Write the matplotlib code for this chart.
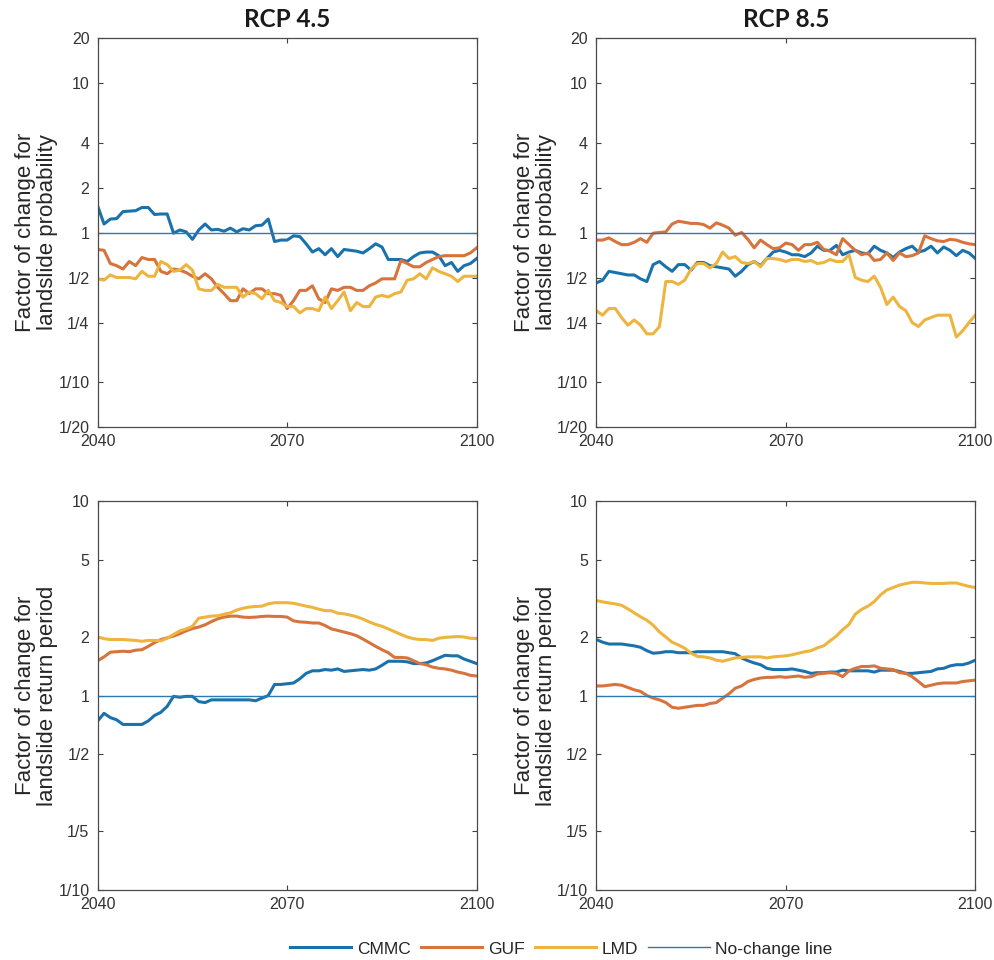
import matplotlib
matplotlib.use("Agg")
import matplotlib.pyplot as plt
import matplotlib.ticker as ticker

plt.rcParams["font.family"] = ["Liberation Sans", "DejaVu Sans"]

YEARS = list(range(2040, 2101))
SCENARIOS = ["RCP 4.5", "RCP 8.5"]
MODELS = ["CMMC", "GUF", "LMD"]
MODEL_COLORS = {"CMMC": "#1a72ad", "GUF": "#d7733d", "LMD": "#edb43e"}
NO_CHANGE_COLOR = "#2a7ab5"

PROB_TICKS = [1 / 20, 1 / 10, 1 / 4, 1 / 2, 1, 2, 4, 10, 20]
PROB_LABELS = ["1/20", "1/10", "1/4", "1/2", "1", "2", "4", "10", "20"]
RET_TICKS = [1 / 10, 1 / 5, 1 / 2, 1, 2, 5, 10]
RET_LABELS = ["1/10", "1/5", "1/2", "1", "2", "5", "10"]
X_TICKS = [2040, 2070, 2100]

# factor of change for landslide probability, 2040..2100
PROB_45_CMMC = [1.50, 1.14, 1.23, 1.24, 1.38, 1.39, 1.40, 1.47, 1.47, 1.32,
                1.33, 1.33, 0.99, 1.04, 1.01, 0.90, 1.04, 1.14, 1.04, 1.05,
                1.02, 1.07, 1.01, 1.06, 1.04, 1.11, 1.12, 1.23, 0.87, 0.89,
                0.89, 0.95, 0.94, 0.84, 0.74, 0.78, 0.71, 0.78, 0.69, 0.77,
                0.76, 0.75, 0.73, 0.78, 0.84, 0.80, 0.66, 0.66, 0.66, 0.64,
                0.69, 0.73, 0.74, 0.74, 0.70, 0.60, 0.63, 0.55, 0.60, 0.62,
                0.67]
PROB_45_GUF = [0.77, 0.76, 0.62, 0.60, 0.57, 0.64, 0.60, 0.68, 0.66, 0.66,
               0.55, 0.53, 0.57, 0.56, 0.54, 0.51, 0.49, 0.53, 0.49, 0.43,
               0.39, 0.35, 0.35, 0.42, 0.39, 0.42, 0.42, 0.39, 0.39, 0.38,
               0.31, 0.35, 0.41, 0.41, 0.44, 0.36, 0.34, 0.42, 0.41, 0.43,
               0.43, 0.41, 0.41, 0.44, 0.46, 0.49, 0.49, 0.49, 0.65, 0.62,
               0.59, 0.59, 0.63, 0.66, 0.69, 0.70, 0.70, 0.70, 0.70, 0.73,
               0.79]
PROB_45_LMD = [0.49, 0.48, 0.52, 0.50, 0.50, 0.50, 0.49, 0.55, 0.51, 0.51,
               0.64, 0.61, 0.55, 0.56, 0.61, 0.56, 0.42, 0.41, 0.41, 0.45,
               0.43, 0.43, 0.43, 0.37, 0.40, 0.39, 0.36, 0.41, 0.35, 0.34,
               0.32, 0.32, 0.29, 0.31, 0.31, 0.30, 0.37, 0.31, 0.35, 0.40,
               0.30, 0.34, 0.32, 0.32, 0.37, 0.38, 0.37, 0.39, 0.40, 0.48,
               0.49, 0.53, 0.49, 0.58, 0.55, 0.53, 0.51, 0.47, 0.51, 0.51,
               0.51]
PROB_85_CMMC = [0.46, 0.48, 0.55, 0.54, 0.53, 0.52, 0.52, 0.49, 0.47, 0.61,
                0.64, 0.59, 0.55, 0.61, 0.61, 0.56, 0.63, 0.63, 0.60, 0.59,
                0.58, 0.57, 0.51, 0.55, 0.61, 0.64, 0.60, 0.67, 0.74, 0.76,
                0.74, 0.71, 0.71, 0.69, 0.73, 0.81, 0.76, 0.76, 0.82, 0.71,
                0.74, 0.76, 0.73, 0.72, 0.81, 0.76, 0.73, 0.68, 0.74, 0.78,
                0.81, 0.74, 0.76, 0.81, 0.73, 0.80, 0.76, 0.70, 0.76, 0.73,
                0.67]
PROB_85_GUF = [0.89, 0.89, 0.92, 0.87, 0.83, 0.83, 0.86, 0.91, 0.86, 0.99,
               1.00, 1.01, 1.14, 1.19, 1.17, 1.15, 1.15, 1.13, 1.07, 1.16,
               1.12, 1.07, 0.96, 1.00, 0.90, 0.79, 0.89, 0.83, 0.78, 0.79,
               0.85, 0.83, 0.76, 0.83, 0.83, 0.86, 0.77, 0.75, 0.71, 0.91,
               0.83, 0.76, 0.71, 0.73, 0.65, 0.66, 0.73, 0.65, 0.73, 0.69,
               0.70, 0.73, 0.95, 0.91, 0.88, 0.87, 0.90, 0.89, 0.86, 0.84,
               0.83]
PROB_85_LMD = [0.30, 0.28, 0.31, 0.31, 0.27, 0.24, 0.26, 0.24, 0.21, 0.21,
               0.235, 0.47, 0.47, 0.45, 0.48, 0.57, 0.62, 0.62, 0.58, 0.62,
               0.74, 0.67, 0.69, 0.63, 0.62, 0.64, 0.59, 0.67, 0.67, 0.66,
               0.64, 0.66, 0.66, 0.64, 0.65, 0.62, 0.63, 0.66, 0.64, 0.64,
               0.71, 0.50, 0.48, 0.47, 0.51, 0.43, 0.33, 0.37, 0.32, 0.30,
               0.25, 0.235, 0.26, 0.27, 0.28, 0.28, 0.28, 0.20, 0.22, 0.25,
               0.28]

# factor of change for landslide return period, 2040..2100
RET_45_CMMC = [0.74, 0.81, 0.77, 0.75, 0.71, 0.71, 0.71, 0.71, 0.74, 0.79,
               0.82, 0.88, 0.99, 0.98, 0.99, 0.99, 0.93, 0.92, 0.95, 0.95,
               0.95, 0.95, 0.95, 0.95, 0.95, 0.94, 0.97, 1.00, 1.14, 1.14,
               1.15, 1.16, 1.22, 1.30, 1.34, 1.34, 1.36, 1.35, 1.37, 1.33,
               1.34, 1.35, 1.36, 1.35, 1.37, 1.43, 1.50, 1.50, 1.50, 1.49,
               1.46, 1.46, 1.47, 1.51, 1.56, 1.61, 1.60, 1.60, 1.54, 1.50,
               1.46]
RET_45_GUF = [1.51, 1.58, 1.67, 1.68, 1.69, 1.68, 1.71, 1.72, 1.79, 1.87,
              1.94, 1.98, 2.02, 2.08, 2.15, 2.21, 2.25, 2.31, 2.40, 2.48,
              2.53, 2.56, 2.56, 2.53, 2.52, 2.53, 2.55, 2.56, 2.55, 2.55,
              2.53, 2.42, 2.39, 2.38, 2.36, 2.36, 2.29, 2.20, 2.16, 2.12,
              2.08, 2.03, 1.95, 1.87, 1.79, 1.72, 1.66, 1.57, 1.57, 1.56,
              1.51, 1.46, 1.44, 1.40, 1.38, 1.37, 1.35, 1.32, 1.30, 1.27,
              1.26]
RET_45_LMD = [2.00, 1.96, 1.94, 1.94, 1.94, 1.93, 1.92, 1.90, 1.92, 1.92,
              1.91, 1.97, 2.06, 2.15, 2.20, 2.27, 2.50, 2.53, 2.56, 2.57,
              2.62, 2.66, 2.75, 2.81, 2.85, 2.87, 2.88, 2.96, 3.00, 3.00,
              3.00, 2.98, 2.93, 2.88, 2.84, 2.78, 2.73, 2.73, 2.65, 2.63,
              2.59, 2.54, 2.47, 2.39, 2.32, 2.27, 2.20, 2.13, 2.06, 2.00,
              1.96, 1.94, 1.94, 1.92, 1.97, 1.99, 2.00, 2.01, 2.00, 1.97,
              1.96]
RET_85_CMMC = [1.94, 1.88, 1.84, 1.84, 1.84, 1.82, 1.80, 1.77, 1.70, 1.65,
               1.66, 1.68, 1.68, 1.66, 1.66, 1.66, 1.68, 1.68, 1.68, 1.68,
               1.68, 1.66, 1.64, 1.56, 1.51, 1.47, 1.44, 1.38, 1.36, 1.36,
               1.36, 1.37, 1.35, 1.33, 1.30, 1.31, 1.31, 1.32, 1.32, 1.35,
               1.34, 1.34, 1.34, 1.34, 1.32, 1.35, 1.35, 1.35, 1.33, 1.30,
               1.30, 1.31, 1.32, 1.33, 1.37, 1.38, 1.42, 1.44, 1.44, 1.47,
               1.52]
RET_85_GUF = [1.12, 1.12, 1.13, 1.14, 1.13, 1.10, 1.07, 1.05, 1.00, 0.97,
              0.95, 0.92, 0.87, 0.86, 0.87, 0.88, 0.89, 0.89, 0.91, 0.92,
              0.97, 1.02, 1.09, 1.12, 1.18, 1.21, 1.23, 1.24, 1.24, 1.25,
              1.24, 1.25, 1.26, 1.24, 1.25, 1.29, 1.30, 1.31, 1.30, 1.25,
              1.34, 1.38, 1.41, 1.41, 1.42, 1.38, 1.37, 1.36, 1.31, 1.30,
              1.25, 1.18, 1.11, 1.13, 1.15, 1.16, 1.16, 1.16, 1.18, 1.19,
              1.20]
RET_85_LMD = [3.08, 3.03, 2.99, 2.96, 2.91, 2.79, 2.66, 2.54, 2.44, 2.30,
              2.12, 2.00, 1.88, 1.82, 1.75, 1.65, 1.59, 1.58, 1.56, 1.52,
              1.50, 1.53, 1.56, 1.57, 1.58, 1.58, 1.58, 1.56, 1.58, 1.59,
              1.60, 1.62, 1.65, 1.68, 1.70, 1.76, 1.80, 1.91, 2.02, 2.18,
              2.32, 2.62, 2.77, 2.88, 3.04, 3.29, 3.49, 3.59, 3.70, 3.76,
              3.82, 3.82, 3.79, 3.77, 3.77, 3.77, 3.79, 3.79, 3.71, 3.64,
              3.59]

PROB_DATA = {
    "RCP 4.5": {"CMMC": PROB_45_CMMC, "GUF": PROB_45_GUF, "LMD": PROB_45_LMD},
    "RCP 8.5": {"CMMC": PROB_85_CMMC, "GUF": PROB_85_GUF, "LMD": PROB_85_LMD},
}
RET_DATA = {
    "RCP 4.5": {"CMMC": RET_45_CMMC, "GUF": RET_45_GUF, "LMD": RET_45_LMD},
    "RCP 8.5": {"CMMC": RET_85_CMMC, "GUF": RET_85_GUF, "LMD": RET_85_LMD},
}


def style_axes(ax, ticks, labels):
    ax.set_yscale("log")
    ax.set_ylim(ticks[0], ticks[-1])
    ax.set_xlim(YEARS[0], YEARS[-1])
    ax.yaxis.set_major_locator(ticker.FixedLocator(ticks))
    ax.yaxis.set_minor_locator(ticker.NullLocator())
    ax.yaxis.set_major_formatter(ticker.FixedFormatter(labels))
    ax.set_xticks(X_TICKS)
    ax.set_xticklabels([str(t) for t in X_TICKS])
    ax.tick_params(direction="in", top=True, right=True, length=3.5, width=0.8,
                   colors="#404040", labelsize=11.5, labelcolor="#333333")
    ax.tick_params(axis="y", pad=6)
    ax.tick_params(axis="x", pad=5)
    for sp in ax.spines.values():
        sp.set_color("#4a4a4a")
        sp.set_linewidth(0.9)


def plot_panel(ax, series, ticks, labels, ylabel):
    handles = []
    for m in MODELS:
        h, = ax.plot(YEARS, series[m], color=MODEL_COLORS[m], linewidth=2.2,
                     label=m, solid_joinstyle="round")
        handles.append(h)
    h, = ax.plot([YEARS[0], YEARS[-1]], [1, 1], color=NO_CHANGE_COLOR,
                 linewidth=1.0, label="No-change line")
    handles.append(h)
    style_axes(ax, ticks, labels)
    ax.set_ylabel(ylabel, fontsize=16, color="#262626", linespacing=1.05)
    ax.yaxis.set_label_coords(-0.104, 0.5)
    return handles


fig = plt.figure(figsize=(9.95, 9.6), dpi=100)

col_x = [0.0982, 0.5993]
row_y = [0.5552, 0.0729]
w, h = 0.3809, 0.4052

handles = None
for i, scen in enumerate(SCENARIOS):
    ax_top = fig.add_axes([col_x[i], row_y[0], w, h])
    handles = plot_panel(ax_top, PROB_DATA[scen], PROB_TICKS, PROB_LABELS,
                         "Factor of change for\nlandslide probability")
    ax_top.set_title(scen, fontsize=17.5, fontweight="bold", family=["Lato", "DejaVu Sans"],
                     pad=8, color="#1a1a1a")

    ax_bot = fig.add_axes([col_x[i], row_y[1], w, h])
    plot_panel(ax_bot, RET_DATA[scen], RET_TICKS, RET_LABELS,
               "Factor of change for\nlandslide return period")

fig.legend(handles=handles, labels=[hd.get_label() for hd in handles],
           loc="center", bbox_to_anchor=(0.564, 0.0115), ncol=4, frameon=False,
           fontsize=12.5, handlelength=3.55, handletextpad=0.3, columnspacing=0.6,
           labelcolor="#262626")

fig.savefig("out.png", dpi=100)
plt.close()
